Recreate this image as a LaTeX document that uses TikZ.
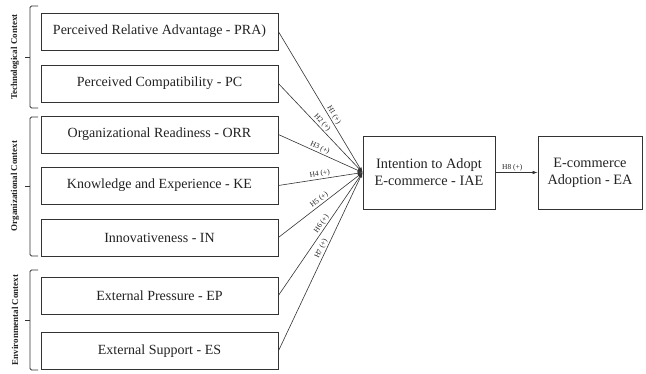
\documentclass[tikz,border=0pt]{standalone}
\usepackage{fontspec}
\setmainfont{Liberation Serif}
\usetikzlibrary{arrows.meta}
\definecolor{ln}{HTML}{333333}
\definecolor{tx}{HTML}{222222}
\begin{document}
\begin{tikzpicture}[x=1pt,y=-1pt,
  factor/.style={draw=ln,line width=0.8pt,minimum width=237pt,minimum height=37pt,inner sep=0pt,font=\fontsize{14}{16}\selectfont,text=tx},
  bigbox/.style={draw=ln,line width=0.8pt,minimum height=73pt,inner sep=0pt,align=center,font=\fontsize{14.3}{17}\selectfont,text=tx},
  link/.style={draw=ln,line width=0.6pt,-{Latex[length=5pt,width=3.5pt]}},
  hlab/.style={font=\fontsize{7.5}{8}\selectfont,text=tx,sloped,above,inner sep=1pt},
  brack/.style={draw=ln,line width=0.8pt,rounded corners=1.5pt},
  ctx/.style={font=\bfseries\fontsize{9}{10}\selectfont,text=tx,rotate=90,inner sep=0pt}]
\useasboundingbox (0,0) rectangle (646,374);
\node[factor] (pra) at (159.5,31.5) {Perceived Relative Advantage - PRA)};
\node[factor] (pc)  at (159.5,83.5) {Perceived Compatibility - PC};
\node[factor] (orr) at (159.5,134.5) {Organizational Readiness - ORR};
\node[factor] (ke)  at (159.5,185.5) {Knowledge and Experience - KE};
\node[factor] (in)  at (159.5,237.5) {Innovativeness - IN};
\node[factor] (ep)  at (159.5,295.5) {External Pressure - EP};
\node[factor] (es)  at (159.5,351) {External Support - ES};
\node[bigbox,minimum width=132pt] (iae) at (429,172.5) {Intention to Adopt\\E-commerce - IAE};
\node[bigbox,minimum width=104pt] (ea) at (590,172.5) {E-commerce\\Adoption - EA};
\coordinate (c) at (iae.west);
\draw[link] (pra.east) -- node[hlab,pos=0.61] {H1 (+)} (c);
\draw[link] (pc.east) -- node[hlab,pos=0.48] {H2 (+)} (c);
\draw[link] (orr.east) -- node[hlab,pos=0.47] {H3 (+)} (c);
\draw[link] (ke.east) -- node[hlab,pos=0.5] {H4 (+)} (c);
\draw[link] (in.east) -- node[hlab,pos=0.52] {H5 (+)} (c);
\draw[link] (ep.east) -- node[hlab,pos=0.56] {H6 (+)} (c);
\draw[link] (es.east) -- node[hlab,pos=0.56] {H7 (+)} (c);
\draw[link] (iae.east) -- node[hlab,pos=0.4] {H8 (+)} (ea.west);
% brackets
\coordinate (t1) at (38,6); \coordinate (t2) at (38,108);
\coordinate (o1) at (38,117); \coordinate (o2) at (38,256);
\coordinate (e1) at (38,270); \coordinate (e2) at (38,370);
\draw[brack] (t1) -- (30,6) -- (30,108) -- (t2);
\draw[brack] (30,57) -- (25,57);
\draw[brack] (o1) -- (30,117) -- (30,256) -- (o2);
\draw[brack] (30,186) -- (25,186);
\draw[brack] (e1) -- (30,270) -- (30,370) -- (e2);
\draw[brack] (30,320) -- (25,320);
\node[ctx] (tc) at (15,57) {Technological Context};
\node[ctx] (oc) at (15,186) {Organizational Context};
\node[ctx] (ec) at (15,320) {Environmental Context};
\end{tikzpicture}
\end{document}
